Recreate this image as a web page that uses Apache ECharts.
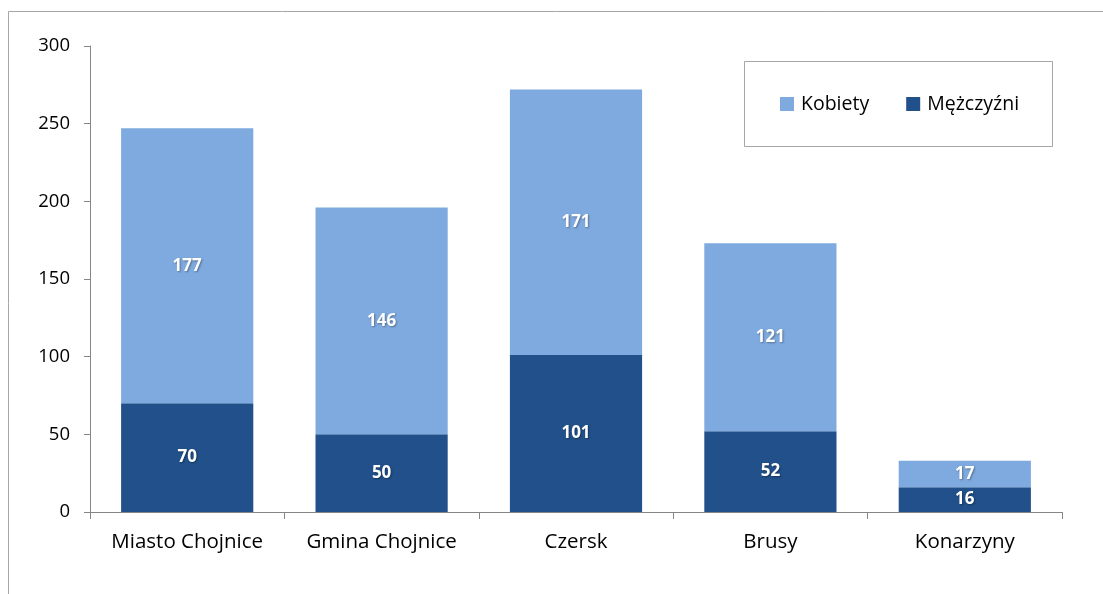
<!DOCTYPE html>
<html><head><meta charset="utf-8">
<script src="https://cdn.jsdelivr.net/npm/echarts@6/dist/echarts.min.js"></script>
<style>html,body{margin:0;padding:0;background:#fff}#c{width:1103px;height:594px}</style>
</head><body><div id="c"></div>
<script>
const categories = ['Miasto Chojnice', 'Gmina Chojnice', 'Czersk', 'Brusy', 'Konarzyny'];
const men = [70, 50, 101, 52, 16];
const women = [177, 146, 171, 121, 17];
const yTicks = [0, 50, 100, 150, 200, 250, 300];

const FONT = 'Open Sans';
const chart = echarts.init(document.getElementById('c'));
const labelStyle = {show: true, position: 'inside', color: '#fff', fontWeight: 'bold', fontSize: 17, fontFamily: FONT,
  textShadowColor: 'rgba(0,0,0,0.35)', textShadowBlur: 2, textShadowOffsetX: 1, textShadowOffsetY: 1};
chart.setOption({
  animation: false,
  textStyle: {fontFamily: FONT},
  graphic: [
    {type: 'rect', shape: {x: 8.5, y: 11.5, width: 1200, height: 700}, style: {fill: 'none', stroke: '#a6a6a6', lineWidth: 1}, silent: true},
    {type: 'rect', shape: {x: 744.5, y: 61.5, width: 308, height: 85}, style: {fill: '#fff', stroke: '#a6a6a6', lineWidth: 1}, z: 5, silent: true}
  ],
  legend: {
    left: 780, top: 94, padding: 0, itemWidth: 14, itemHeight: 14, itemGap: 37, z: 10,
    icon: 'rect',
    textStyle: {fontSize: 19.5, color: '#000', fontFamily: FONT, padding: [0, 0, 0, 2]},
    data: ['Kobiety', 'Mężczyźni']
  },
  grid: {left: 90, right: 41, top: 46, bottom: 82, containLabel: false},
  xAxis: {
    type: 'category', data: categories,
    axisLine: {lineStyle: {color: '#868686', width: 1}},
    axisTick: {show: true, interval: 0, length: 7, lineStyle: {color: '#868686'}},
    axisLabel: {interval: 0, fontSize: 20.5, color: '#000', margin: 20, fontFamily: FONT}
  },
  yAxis: {
    type: 'value', min: 0, max: 300, interval: 50,
    axisLine: {show: true, lineStyle: {color: '#868686'}},
    axisTick: {show: true, length: 6, lineStyle: {color: '#868686'}},
    splitLine: {show: false},
    axisLabel: {fontSize: 18.5, color: '#000', margin: 20, fontFamily: FONT,
      formatter: v => yTicks.includes(v) ? String(v) : ''}
  },
  series: [
    {name: 'Mężczyźni', type: 'bar', stack: 's', data: men, barWidth: '68%',
      itemStyle: {color: '#21508A'}, label: labelStyle},
    {name: 'Kobiety', type: 'bar', stack: 's', data: women, barWidth: '68%',
      itemStyle: {color: '#7FAADF'}, label: labelStyle}
  ]
});
</script></body></html>
